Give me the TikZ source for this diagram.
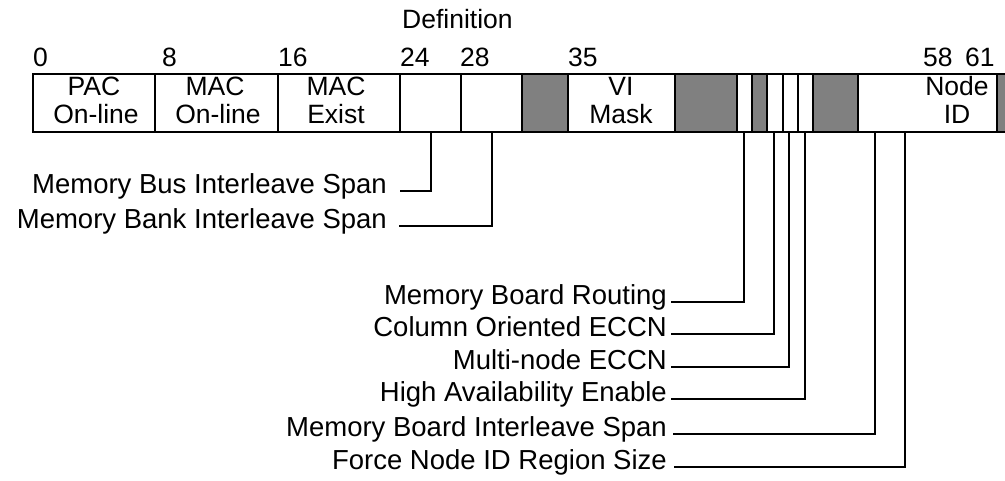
\documentclass[tikz,border=0pt]{standalone}
\usepackage{fontspec}
\setmainfont{Liberation Sans}
\definecolor{fieldgray}{RGB}{128,128,128}
\begin{document}
\begin{tikzpicture}[x=1pt,y=-1pt,
  fld/.style={draw=black,line width=2.2pt,minimum height=58pt,inner sep=0pt,outer sep=0pt,anchor=north west},
  rsv/.style={fld,fill=fieldgray},
  ftxt/.style={anchor=base,inner sep=0pt,font=\fontsize{26.5}{28}\selectfont},
  bit/.style={anchor=base west,inner sep=0pt,font=\fontsize{26.5}{28}\selectfont},
  lbl/.style={anchor=east,inner xsep=0pt,inner ysep=0pt,text height=0.72em,text depth=0.2em,font=\fontsize{27.5}{30}\selectfont},
  conn/.style={draw=black,line width=2pt}]
\useasboundingbox (0,0) rectangle (1005,481);

% title
\node[bit] (def) at (402,29) {Definition};

% bit numbers
\node[bit] (b0) at (33,67) {0};
\node[bit] (b8) at (162,67) {8};
\node[bit] (b16) at (278,67) {16};
\node[bit] (b24) at (400,67) {24};
\node[bit] (b28) at (460,67) {28};
\node[bit] (b35) at (568,67) {35};
\node[bit] (b58) at (923,67) {58};
\node[bit] (b61) at (965,67) {61};

% register fields
\node[fld,minimum width=122pt] (pac) at (33,74) {};
\node[fld,minimum width=123pt] (macon) at (155,74) {};
\node[fld,minimum width=122pt] (macex) at (278,74) {};
\node[fld,minimum width=61pt] (bus) at (400,74) {};
\node[fld,minimum width=61pt] (bank) at (461,74) {};
\node[rsv,minimum width=46pt] (r1) at (522,74) {};
\node[fld,minimum width=107pt] (vi) at (568,74) {};
\node[rsv,minimum width=62pt] (r2) at (675,74) {};
\node[fld,minimum width=15pt] (route) at (737,74) {};
\node[rsv,minimum width=15pt] (r3) at (752,74) {};
\node[fld,minimum width=16pt] (col) at (767,74) {};
\node[fld,minimum width=15pt] (multi) at (783,74) {};
\node[fld,minimum width=15pt] (high) at (798,74) {};
\node[rsv,minimum width=45pt] (r4) at (813,74) {};
\node[fld,minimum width=139pt] (nid) at (858,74) {};
\node[rsv,minimum width=20pt] (r5) at (997,74) {};

% field texts
\node[ftxt] (pac1) at (94,96) {PAC};
\node[ftxt] (pac2) at (96,124) {On-line};
\node[ftxt] (macon1) at (215,96) {MAC};
\node[ftxt] (macon2) at (218,124) {On-line};
\node[ftxt] (macex1) at (336,96) {MAC};
\node[ftxt] (macex2) at (336,124) {Exist};
\node[ftxt] (vi1) at (621,96) {VI};
\node[ftxt] (vi2) at (621,124) {Mask};
\node[ftxt] (nid1) at (957,96) {Node};
\node[ftxt] (nid2) at (957,124) {ID};

% taps on the bar bottom
\coordinate (tbus) at (431,132);
\coordinate (tbank) at (492,132);
\coordinate (troute) at (744,132);
\coordinate (tcol) at (774,132);
\coordinate (tmulti) at (789,132);
\coordinate (thigh) at (805,132);
\coordinate (tmbis) at (875,132);
\coordinate (tforce) at (905,132);

% labels
\node[lbl] (lbus) at (387,191) {Memory Bus Interleave Span};
\node[lbl] (lbank) at (387,226) {Memory Bank Interleave Span};
\node[lbl] (lroute) at (667,302) {Memory Board Routing};
\node[lbl] (lcol) at (667,334) {Column Oriented ECCN};
\node[lbl] (lmulti) at (667,367) {Multi-node ECCN};
\node[lbl] (lhigh) at (667,399) {High Availability Enable};
\node[lbl] (lmbis) at (667,434) {Memory Board Interleave Span};
\node[lbl] (lforce) at (667,467) {Force Node ID Region Size};

% connectors
\draw[conn] ([xshift=13pt]lbus.east) -| (tbus);
\draw[conn] ([xshift=12pt]lbank.east) -| (tbank);
\draw[conn] ([xshift=4pt]lroute.east) -| (troute);
\draw[conn] ([xshift=4pt]lcol.east) -| (tcol);
\draw[conn] ([xshift=4pt]lmulti.east) -| (tmulti);
\draw[conn] ([xshift=4pt]lhigh.east) -| (thigh);
\draw[conn] ([xshift=6pt]lmbis.east) -| (tmbis);
\draw[conn] ([xshift=7pt]lforce.east) -| (tforce);
\end{tikzpicture}
\end{document}
